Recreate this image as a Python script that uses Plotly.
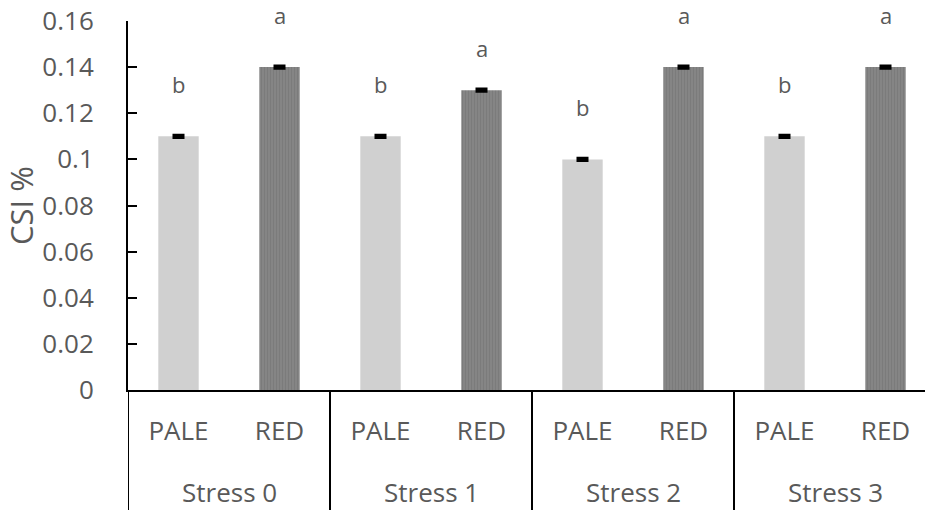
import plotly.graph_objects as go

groups = ["Stress 0", "Stress 1", "Stress 2", "Stress 3"]
subcats = ["PALE", "RED"]
pale_vals = [0.11, 0.11, 0.10, 0.11]
red_vals = [0.14, 0.13, 0.14, 0.14]
pale_err = [0.0005, 0.0005, 0.0005, 0.0005]
red_err = [0.0005, 0.0005, 0.0005, 0.0005]
pale_letters = ["b", "b", "b", "b"]
red_letters = ["a", "a", "a", "a"]
y_ticks = [0, 0.02, 0.04, 0.06, 0.08, 0.1, 0.12, 0.14, 0.16]

# style: pixel lift of each letter above its bar top
pale_letter_shift = [52, 52, 52, 52]
red_letter_shift = [52, 42, 52, 52]

FONT = "Open Sans"
GRAY = "#595959"

W, H = 925, 510
ML, MT = 128, 21
plot_h = 369
MB = H - MT - plot_h
axis_y = H - MB  # pixel row of the x axis line

cat_keys = [f"{g} {c}" for g in groups for c in subcats]
pale_x = [f"{g} PALE" for g in groups]
red_x = [f"{g} RED" for g in groups]

fig = go.Figure()
fig.add_trace(go.Bar(
    x=pale_x, y=pale_vals, name="PALE", width=0.4,
    marker=dict(color="#d0d0d0", line=dict(width=0)),
    error_y=dict(type="data", array=pale_err, color="black", thickness=3, width=6),
))
fig.add_trace(go.Bar(
    x=red_x, y=red_vals, name="RED", width=0.4,
    marker=dict(color="#808080", line=dict(width=0),
                pattern=dict(shape="|", fgcolor="#6f6f6f", bgcolor="#858585", size=3, solidity=0.3)),
    error_y=dict(type="data", array=red_err, color="black", thickness=3, width=6),
))

# significance letters
for xs, vals, letters, shifts in [(pale_x, pale_vals, pale_letters, pale_letter_shift),
                                  (red_x, red_vals, red_letters, red_letter_shift)]:
    for xk, v, t, s in zip(xs, vals, letters, shifts):
        fig.add_annotation(
            x=xk, y=v, xref="x", yref="y", yanchor="middle", yshift=s,
            text=t, showarrow=False, font=dict(family=FONT, size=22, color=GRAY),
        )

n_sub = len(subcats)
# group labels below the sub-category labels
for gi, g in enumerate(groups):
    fig.add_annotation(
        x=gi * n_sub + (n_sub - 1) / 2, xref="x",
        y=-(492 - axis_y) / plot_h, yref="paper", yanchor="middle",
        text=g, showarrow=False, font=dict(family=FONT, size=26, color=GRAY),
    )
# group dividers
for gi in range(len(groups) + 1):
    xb = gi * n_sub - 0.5
    fig.add_shape(
        type="line", xref="x", yref="paper", x0=xb, x1=xb,
        y0=0, y1=-(MB + 5) / plot_h, line=dict(color="black", width=2),
    )

fig.update_layout(
    width=W, height=H, barmode="overlay", showlegend=False,
    plot_bgcolor="white", paper_bgcolor="white",
    margin=dict(l=ML, r=0, t=MT, b=MB, pad=0),
    font=dict(family=FONT, color=GRAY),
    xaxis=dict(
        type="category", categoryorder="array", categoryarray=cat_keys,
        tickvals=cat_keys, ticktext=subcats * len(groups),
        range=[-0.5, -0.5 + (W - ML) / 101],
        showline=True, linecolor="black", linewidth=2,
        ticks="", ticklabelstandoff=17, ticklabeloverflow="allow",
        tickfont=dict(family=FONT, size=26, color=GRAY),
        showgrid=False, zeroline=False, automargin=False,
    ),
    yaxis=dict(
        range=[0, 0.16], tickvals=y_ticks, ticktext=[f"{v:g}" for v in y_ticks],
        showline=True, linecolor="black", linewidth=2,
        ticks="inside", ticklen=9, tickwidth=2, tickcolor="black",
        tickfont=dict(family=FONT, size=26, color=GRAY), ticklabelstandoff=27,
        ticklabeloverflow="allow",
        showgrid=False, zeroline=False, automargin=False,
        title=dict(text="CSI %", font=dict(family=FONT, size=31, color=GRAY), standoff=22),
    ),
)

# remove the browser's default 8px page margin so the figure fills the window
fig.write_html("out.html", config={"displayModeBar": False},
               post_script="document.body.style.margin='0';")
